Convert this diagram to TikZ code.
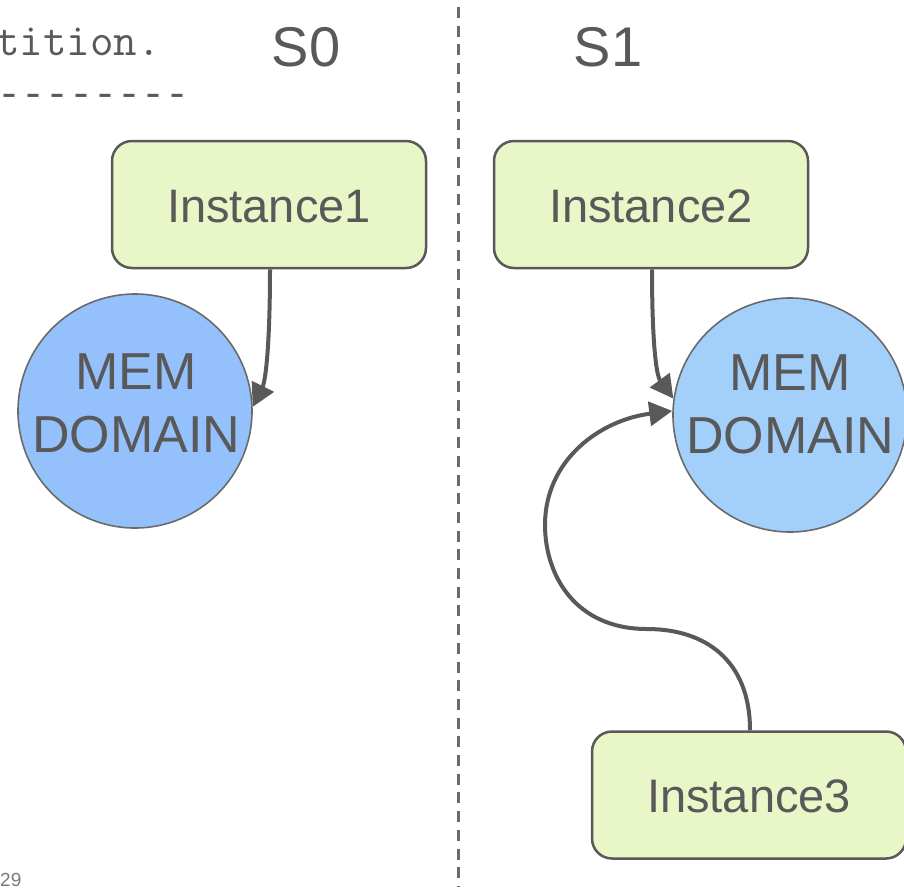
\documentclass[tikz,border=0pt]{standalone}
\usepackage{fontspec}
\setmainfont{Liberation Sans}
\newfontfamily\rulefont{Liberation Mono}
\usetikzlibrary{arrows.meta}
\definecolor{ink}{HTML}{595959}
\definecolor{boxfill}{HTML}{E8F6C8}
\definecolor{memA}{HTML}{94C1FB}
\definecolor{memB}{HTML}{A3CFFB}
\tikzset{
  instbox/.style={draw=ink, line width=2.5pt, fill=boxfill, rounded corners=20pt,
    minimum width=314pt, minimum height=127pt, inner sep=0pt,
    text height=35pt, text depth=0pt,
    text=ink, font=\fontsize{47}{47}\selectfont},
  memnode/.style={circle, draw=ink!90, line width=1.6pt, minimum size=234pt, inner sep=0pt},
  memtext/.style={text=ink, align=center, inner sep=0pt, font=\fontsize{52}{63}\selectfont},
  link/.style={draw=ink, line width=4pt, -{Triangle[length=23pt,width=24pt]}},
  title/.style={text=ink, font=\fontsize{56}{56}\selectfont, inner sep=0pt},
  code/.style={text=ink, font=\ttfamily\fontsize{45.7}{45.7}\selectfont, inner sep=0pt, anchor=base west},
  coderule/.style={text=ink, font=\rulefont\fontsize{40}{40}\selectfont, inner sep=0pt, anchor=base west}
}
\begin{document}
\begin{tikzpicture}[x=1pt, y=-1pt]
  \useasboundingbox (0,0) rectangle (904,887);
  \clip (0,0) rectangle (904,887);

  % note text in the upper left corner
  \node[code] (note) at (-4,55) {tition.};
  \node[coderule] (rule) at (-3,106) {\string-\string-\string-\string-\string-\string-\string-\string-};

  % page number
  \node[text=ink!80, font=\fontsize{19}{19}\selectfont, inner sep=0pt, anchor=base west] (page) at (0,886) {29};

  % divider between the two sockets
  \draw[ink!90, line width=3pt, dash pattern=on 11pt off 7.7pt] (458,7) coordinate (dtop) -- (458,887) coordinate (dbot);

  % socket titles
  \node[title] (s0) at (306,47) {S0};
  \node[title] (s1) at (608,47) {S1};

  % instances
  \node[instbox] (i1) at (269,204.5) {Instance1};
  \node[instbox] (i2) at (651,204.5) {Instance2};
  \node[instbox] (i3) at (749,795) {Instance3};

  % memory domains
  \node[memnode, fill=memA] (m0) at (135,411) {};
  \node[memtext] (t0) at (136,403) {MEM\\DOMAIN};
  \node[memnode, fill=memB] (m1) at (790,415) {};
  \node[memtext] (t1) at (790,404) {MEM\\DOMAIN};

  % connections
  \coordinate (i1out) at (i1.south -| 270,0);
  \coordinate (i2out) at (i2.south -| 652,0);
  \coordinate (i3out) at (i3.north -| 750,0);
  \coordinate (bend) at (647,629);
  \draw[link] (i1out) .. controls (270,340) and (266,380) .. (m0.2);
  \draw[link] (i2out) .. controls (652,340) and (656,375) .. (m1.172);
  \draw[link] (i3out) .. controls (750,660) and (705,629) .. (bend)
     .. controls (575,629) and (545,575) .. (545,525)
     .. controls (545,460) and (600,420) .. (m1.178);
\end{tikzpicture}
\end{document}
